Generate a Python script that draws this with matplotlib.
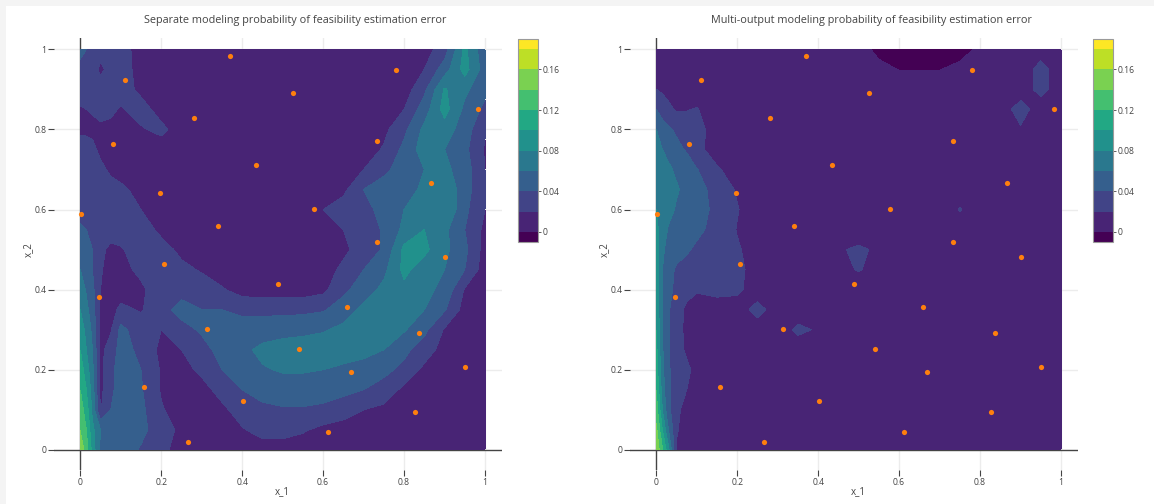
import numpy as np
import matplotlib.pyplot as plt

plt.rcParams['font.family'] = ['Open Sans', 'DejaVu Sans']

W, H = 1154, 504

titles = ["Separate modeling probability of feasibility estimation error",
          "Multi-output modeling probability of feasibility estimation error"]

# grid of the estimated field (columns = x_1, rows = x_2 from top to bottom)
x_grid = [0, 0.015, 0.03, 0.05, 0.075, 0.1, 0.15, 0.2, 0.25, 0.3, 0.35, 0.4,
          0.45, 0.5, 0.55, 0.6, 0.65, 0.7, 0.75, 0.8, 0.85, 0.9, 0.95, 1.0]
y_grid = [1.0, 0.95, 0.9, 0.85, 0.8, 0.75, 0.7, 0.65, 0.6, 0.55, 0.5,
          0.45, 0.4, 0.35, 0.3, 0.25, 0.2, 0.15, 0.1, 0.05, 0.0]

separate_rows = [
    [.045, .04, .035, .03, .03, .025, .015, .01, .01, .01, .01, .01, .01, .01, .01, .01, .01, .01, .01, .01, .012, .03, .085, .045],
    [.035, .03, .03, .015, .028, .03, .012, .01, .01, .01, .01, .01, .01, .01, .01, .01, .01, .01, .01, .01, .02, .05, .088, .05],
    [.03, .03, .03, .03, .03, .03, .015, .01, .01, .01, .01, .01, .01, .01, .01, .01, .01, .01, .01, .01, .035, .082, .065, .045],
    [.018, .02, .022, .028, .024, .018, .028, .012, .01, .01, .01, .01, .01, .01, .01, .01, .01, .01, .01, .02, .05, .088, .055, .035],
    [.015, .015, .015, .015, .015, .015, .018, .025, .01, .01, .01, .01, .01, .01, .01, .01, .01, .01, .015, .035, .065, .07, .05, .022],
    [.032, .03, .025, .015, .01, .01, .01, .01, .01, .01, .01, .01, .01, .01, .01, .01, .01, .01, .022, .045, .07, .06, .045, .018],
    [.035, .033, .03, .025, .016, .01, .01, .01, .01, .01, .01, .01, .01, .01, .01, .01, .01, .02, .035, .05, .06, .065, .05, .02],
    [.035, .034, .032, .03, .028, .025, .012, .01, .01, .01, .01, .01, .01, .01, .01, .01, .015, .04, .05, .05, .065, .075, .05, .02],
    [.035, .033, .03, .03, .03, .03, .02, .01, .01, .01, .01, .01, .01, .01, .01, .02, .03, .035, .045, .06, .07, .08, .045, .02],
    [.042, .04, .035, .032, .03, .03, .03, .015, .01, .01, .01, .01, .01, .01, .01, .015, .02, .03, .042, .065, .08, .065, .04, .015],
    [.05, .045, .04, .025, .015, .018, .03, .028, .015, .01, .01, .01, .01, .01, .01, .01, .015, .03, .042, .085, .085, .065, .045, .012],
    [.06, .05, .04, .022, .012, .012, .026, .032, .025, .018, .01, .01, .01, .01, .01, .01, .025, .04, .055, .085, .07, .06, .04, .01],
    [.07, .058, .045, .02, .012, .01, .015, .035, .035, .03, .022, .012, .01, .01, .01, .015, .035, .05, .065, .075, .065, .055, .018, .01],
    [.08, .065, .05, .015, .012, .025, .018, .035, .045, .04, .04, .035, .035, .035, .035, .038, .05, .065, .07, .07, .06, .042, .012, .01],
    [.09, .075, .055, .015, .018, .045, .03, .02, .035, .042, .048, .05, .05, .052, .055, .058, .065, .07, .07, .062, .045, .018, .01, .01],
    [.10, .08, .06, .015, .028, .048, .035, .015, .02, .035, .045, .055, .065, .07, .07, .072, .072, .068, .06, .045, .03, .012, .01, .01],
    [.11, .09, .065, .015, .035, .048, .04, .018, .012, .025, .04, .05, .058, .062, .062, .06, .055, .05, .045, .035, .015, .01, .01, .01],
    [.12, .10, .07, .015, .035, .05, .042, .018, .01, .012, .028, .04, .048, .05, .05, .05, .045, .04, .032, .015, .01, .01, .01, .01],
    [.13, .11, .075, .018, .04, .05, .045, .022, .01, .01, .015, .03, .035, .038, .038, .035, .03, .02, .015, .01, .01, .01, .01, .01],
    [.14, .12, .085, .06, .05, .05, .045, .03, .015, .01, .01, .018, .028, .028, .022, .015, .01, .01, .01, .01, .01, .01, .01, .01],
    [.155, .13, .092, .055, .05, .05, .038, .025, .012, .01, .01, .01, .01, .01, .01, .01, .01, .01, .01, .01, .01, .01, .01, .01],
]

multi_rows = [
    [.012, .01, .01, .01, .01, .01, .01, .01, .01, .01, .01, .01, .01, .006, -.004, -.008, -.009, -.008, -.006, .003, .01, .01, .012, .01],
    [.016, .01, .01, .01, .01, .01, .01, .01, .01, .01, .01, .01, .01, .009, .004, -.0005, -.0008, -.0005, .004, .008, .01, .01, .026, .01],
    [.02, .017, .014, .01, .01, .01, .01, .01, .01, .01, .01, .01, .01, .01, .01, .01, .01, .01, .01, .01, .01, .01, .026, .01],
    [.04, .03, .024, .018, .019, .021, .01, .01, .01, .01, .01, .01, .01, .01, .01, .01, .01, .01, .01, .01, .01, .028, .01, .01],
    [.06, .05, .043, .037, .03, .026, .012, .01, .01, .01, .01, .01, .01, .01, .01, .01, .01, .01, .01, .01, .01, .018, .01, .01],
    [.07, .06, .055, .045, .038, .025, .012, .01, .01, .01, .01, .01, .01, .01, .01, .01, .01, .01, .01, .01, .01, .01, .01, .01],
    [.075, .07, .063, .057, .05, .041, .022, .012, .01, .01, .01, .01, .01, .01, .01, .01, .01, .01, .01, .01, .01, .01, .01, .01],
    [.078, .075, .07, .062, .055, .048, .032, .018, .01, .01, .01, .01, .01, .01, .01, .01, .01, .01, .01, .01, .01, .01, .01, .01],
    [.08, .072, .066, .058, .052, .048, .035, .021, .01, .01, .01, .01, .01, .01, .01, .01, .01, .01, .021, .01, .01, .01, .01, .01],
    [.085, .07, .058, .052, .048, .044, .034, .019, .01, .01, .01, .01, .01, .01, .01, .01, .01, .01, .01, .01, .01, .01, .01, .01],
    [.088, .065, .05, .045, .042, .037, .032, .022, .012, .01, .01, .01, .018, .023, .017, .01, .01, .01, .01, .01, .01, .01, .01, .01],
    [.09, .06, .045, .038, .035, .033, .03, .025, .012, .01, .01, .01, .016, .021, .015, .01, .01, .01, .01, .01, .01, .01, .01, .01],
    [.092, .058, .045, .035, .028, .022, .026, .024, .01, .01, .01, .01, .01, .01, .01, .01, .01, .01, .01, .01, .01, .01, .01, .01],
    [.095, .058, .042, .03, .015, .01, .01, .01, .027, .01, .01, .01, .01, .01, .01, .01, .01, .01, .01, .01, .01, .01, .01, .01],
    [.10, .06, .041, .03, .014, .01, .01, .01, .01, .01, .024, .018, .01, .01, .01, .01, .01, .01, .01, .01, .01, .01, .01, .01],
    [.105, .062, .041, .03, .016, .01, .01, .01, .01, .01, .01, .01, .01, .01, .01, .01, .01, .01, .01, .01, .01, .01, .01, .01],
    [.11, .065, .042, .032, .025, .013, .01, .01, .01, .01, .01, .01, .01, .01, .01, .01, .01, .01, .01, .01, .01, .01, .01, .01],
    [.12, .07, .042, .032, .02, .01, .01, .01, .01, .01, .01, .01, .01, .01, .01, .01, .01, .01, .01, .01, .01, .01, .01, .01],
    [.13, .08, .045, .025, .012, .01, .01, .01, .01, .01, .01, .01, .01, .01, .01, .01, .01, .01, .01, .01, .01, .01, .01, .01],
    [.145, .10, .06, .022, .01, .01, .01, .01, .01, .01, .01, .01, .01, .01, .01, .01, .01, .01, .01, .01, .01, .01, .01, .01],
    [.155, .123, .085, .018, .01, .01, .01, .01, .01, .01, .01, .01, .01, .01, .01, .01, .01, .01, .01, .01, .01, .01, .01, .01],
]

# sampled points (same in both panels)
points_x = [0.370, 0.780, 0.111, 0.525, 0.982, 0.282, 0.082, 0.732, 0.433, 0.867,
            0.197, 0.002, 0.578, 0.341, 0.733, 0.900, 0.207, 0.488, 0.045, 0.659,
            0.313, 0.837, 0.540, 0.669, 0.950, 0.158, 0.403, 0.827, 0.611, 0.265]
points_y = [0.983, 0.948, 0.924, 0.890, 0.852, 0.829, 0.764, 0.772, 0.710, 0.667,
            0.641, 0.590, 0.601, 0.559, 0.519, 0.481, 0.464, 0.413, 0.381, 0.356,
            0.303, 0.292, 0.251, 0.195, 0.206, 0.157, 0.123, 0.094, 0.046, 0.021]

levels = [-0.01, 0, 0.02, 0.04, 0.06, 0.08, 0.1, 0.12, 0.14, 0.16, 0.18, 0.19]
cbar_ticks = [0, 0.04, 0.08, 0.12, 0.16]
cbar_labels = ["0", "0.04", "0.08", "0.12", "0.16"]
tick_vals = [0, 0.2, 0.4, 0.6, 0.8, 1]
tick_labels = ["0", "0.2", "0.4", "0.6", "0.8", "1"]

band_colors = plt.cm.viridis(np.linspace(0, 1, 11))
grey = '#444444'


def draw_panel(fig, left_px, cbar_px, rows, title):
    z = np.array(rows)[::-1]
    assert z.shape == (len(y_grid), len(x_grid))
    ax = fig.add_axes([left_px / W, 1 - 470 / H, 448 / W, 432 / H])
    ax.set_facecolor('none')
    ax.set_xlim(-0.065, 1.042)
    ax.set_ylim(-0.05, 1.028)
    for v in tick_vals[1:]:
        ax.axvline(v, color='#ececec', lw=1, zorder=0)
        ax.axhline(v, color='#ececec', lw=1, zorder=0)
    ax.axvline(0, color=grey, lw=1, zorder=0.5)
    ax.axhline(0, color=grey, lw=1, zorder=0.5)
    cs = ax.contourf(x_grid, y_grid[::-1], z, levels=levels, colors=band_colors, zorder=1)
    ax.scatter(points_x, points_y, s=14, c='#ff7f0e', linewidths=0, zorder=3)
    for s in ax.spines.values():
        s.set_visible(False)
    ax.set_xticks(tick_vals)
    ax.set_xticklabels(tick_labels)
    ax.set_yticks(tick_vals)
    ax.set_yticklabels(tick_labels)
    ax.tick_params(length=4, width=0.8, color=grey, labelcolor=grey, labelsize=6.2, pad=1.5)

    cax = fig.add_axes([cbar_px / W, 1 - 242 / H, 20 / W, 203 / H])
    cb = fig.colorbar(cs, cax=cax, spacing='proportional')
    cb.set_ticks(cbar_ticks, labels=cbar_labels)
    cb.ax.tick_params(length=2, width=0.6, color=grey, labelcolor=grey, labelsize=6.2, pad=1)
    cb.outline.set_edgecolor('#9a9a9a')
    cb.outline.set_linewidth(0.8)

    x0 = left_px + 26.5
    fig.text((x0 + 215) / W, 1 - 21 / H, title, ha='center', va='center', fontsize=7.8, color=grey)
    fig.text((x0 + 202) / W, 1 - 492 / H, "x_1", ha='center', va='center', fontsize=7, color=grey)
    fig.text((left_px - 26) / W, 1 - 250 / H, "x_2", ha='center', va='center', fontsize=7,
             color=grey, rotation=90)


fig = plt.figure(figsize=(W / 100, H / 100), dpi=100)
fig.patch.set_facecolor('#f4f4f4')
fig.add_artist(plt.Rectangle((6 / W, 0), 1, 1 - 6 / H, transform=fig.transFigure,
                             facecolor='white', edgecolor='none', zorder=-10))

draw_panel(fig, 54, 518, separate_rows, titles[0])
draw_panel(fig, 630, 1093, multi_rows, titles[1])

fig.savefig("out.png", dpi=100)
